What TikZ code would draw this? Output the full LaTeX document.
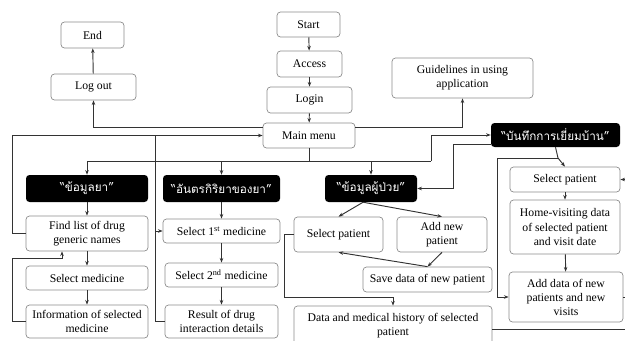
\documentclass[tikz,border=0pt]{standalone}
\usepackage{fontspec}
\setmainfont{Liberation Serif}
\newfontfamily\thaifont[Script=Thai]{Loma}
\usetikzlibrary{arrows.meta}
\newcommand{\pxunit}{0.03cm}
\newcommand{\arcolor}{black!80}
\newcommand{\bordercolor}{black!45}
\newcommand{\cornerradius}{3pt}
\tikzset{
  stepbox/.style={draw=\bordercolor, line width=0.6pt, rounded corners=\cornerradius, fill=white, align=center, inner sep=1pt},
  headbox/.style={fill=black, rounded corners=\cornerradius, text=white, align=center, inner sep=1pt, font=\thaifont},
  link/.style={draw=\arcolor, line width=0.8pt},
}

\begin{document}
\begin{tikzpicture}[x=\pxunit, y=-\pxunit, >={Stealth[length=4pt, width=3pt]}]
\useasboundingbox (0, 0) rectangle (625, 340);
\clip (0, 0) rectangle (625, 340);
%top
\node[stepbox] (start) at (308.5, 24.5) [minimum width=63*\pxunit, minimum height=25*\pxunit] {Start};
\node[stepbox] (access) at (309.5, 64) [minimum width=65*\pxunit, minimum height=26*\pxunit] {Access};
\node[stepbox] (login) at (309.5, 100) [minimum width=85*\pxunit, minimum height=26*\pxunit] {Login};
\node[stepbox] (main) at (309, 135.5) [minimum width=92*\pxunit, minimum height=25*\pxunit] {Main menu};
\node[stepbox] (logout) at (93.5, 87) [minimum width=85*\pxunit, minimum height=26*\pxunit] {Log out};
\node[stepbox] (stop) at (92.5, 35) [minimum width=63*\pxunit, minimum height=26*\pxunit] {End};
\node[stepbox] (guide) at (462.5, 78) [minimum width=141*\pxunit, minimum height=40*\pxunit] {Guidelines in using\\application};
%headers
\node[headbox] (drug) at (87, 188.5) [minimum width=122*\pxunit, minimum height=27*\pxunit] {“ข้อมูลยา”};
\node[headbox] (inter) at (221.5, 188.5) [minimum width=117*\pxunit, minimum height=27*\pxunit] {“อันตรกิริยาของยา”};
\node[headbox] (patient) at (371, 188.5) [minimum width=92*\pxunit, minimum height=27*\pxunit] {“ข้อมูลผู้ป่วย”};
\node[headbox] (visit) at (555.5, 135) [minimum width=129*\pxunit, minimum height=24*\pxunit] {“บันทึกการเยี่ยมบ้าน”};
%drug column
\node[stepbox] (find) at (87, 233.5) [minimum width=122*\pxunit, minimum height=35*\pxunit] {Find list of drug\\generic names};
\node[stepbox] (selmed) at (87, 278) [minimum width=122*\pxunit, minimum height=24*\pxunit] {Select medicine};
\node[stepbox] (info) at (87, 321.5) [minimum width=122*\pxunit, minimum height=33*\pxunit] {Information of selected\\medicine};
%interaction column
\node[stepbox] (first) at (221.5, 231) [minimum width=117*\pxunit, minimum height=24*\pxunit] {Select 1\textsuperscript{st} medicine};
\node[stepbox] (second) at (221.5, 275) [minimum width=113*\pxunit, minimum height=24*\pxunit] {Select 2\textsuperscript{nd} medicine};
\node[stepbox] (result) at (221.5, 321.5) [minimum width=113*\pxunit, minimum height=33*\pxunit] {Result of drug\\interaction details};
%patient column
\node[stepbox] (selp) at (338.5, 234.5) [minimum width=89*\pxunit, minimum height=35*\pxunit] {Select patient};
\node[stepbox] (addp) at (442, 234.5) [minimum width=90*\pxunit, minimum height=35*\pxunit] {Add new\\patient};
\node[stepbox] (save) at (427.5, 279.5) [minimum width=129*\pxunit, minimum height=25*\pxunit] {Save data of new patient};
\node[stepbox] (history) at (393, 325.5) [minimum width=198*\pxunit, minimum height=39*\pxunit] {Data and medical history of selected\\patient};
%visit column
\node[stepbox] (vselp) at (565, 179.5) [minimum width=110*\pxunit, minimum height=25*\pxunit] {Select patient};
\node[stepbox] (home) at (565, 227) [minimum width=110*\pxunit, minimum height=54*\pxunit] {Home-visiting data\\of selected patient\\and visit date};
\node[stepbox] (addv) at (566, 297) [minimum width=114*\pxunit, minimum height=50*\pxunit] {Add data of new\\patients and new\\visits};
%bends
\coordinate (barl) at (87, 161);
\coordinate (barr) at (431, 161);
\coordinate (loopl) at (155, 135.5);
\coordinate (fback) at (62, 258);
\coordinate (hjoin) at (393, 297);
\coordinate (vsplit) at (558, 158);
\coordinate (redge) at (625, 179.5);
%start to main menu
\draw[link, ->] (start) -- (access);
\draw[link, ->] (access) -- (login);
\draw[link, ->] (login) -- (main);
\draw[link, ->] (main.170) -| (logout);
\draw[link, ->] (logout) -- (stop);
\draw[link, ->] (main.10) -| (guide);
%menu bar
\draw[link] (main) -- (main |- barl);
\draw[link] (barl) -- (barr);
\draw[link, ->] (barl) -- (drug);
\draw[link, ->] (inter |- barl) -- (inter);
\draw[link, ->] (patient |- barl) -- (patient);
\draw[link, ->] (barr) |- (visit);
%back to main menu
\draw[link, ->] (find.west) -- ++(-13, 0) |- (main.west);
\draw[link] (result.west) -| (loopl);
\draw[link, ->] (first -| loopl) -- (first);
%drug column
\draw[link, ->] (drug) -- (find);
\draw[link, ->] (find) -- (selmed);
\draw[link, ->] (selmed) -- (info);
\draw[link, ->] (info.west) -- ++(-13, 0) |- (fback) -- (fback |- find.south);
%interaction column
\draw[link, ->] (inter) -- (first);
\draw[link, ->] (first) -- (second);
\draw[link, ->] (second) -- (result);
%patient column
\draw[link, ->] (patient.240) -- (selp.north);
\draw[link, ->] (patient.240) -- (addp.north);
\draw[link, ->] (addp.south) -- (save.north);
\draw[link, ->] (save.north) -- (selp.south);
\draw[link, ->] (selp.west) -- ++(-9, 0) |- (hjoin) -- (history);
\draw[link, ->] (visit.188) -- ++(-37, 0) |- (patient);
%visit column
\draw[link] (visit.south) -- (vsplit);
\draw[link, ->] (vsplit) -- (vselp.north);
\draw[link, ->] (vsplit) -- ++(-61, 0) |- (addv);
\draw[link, ->] (vselp) -- (home);
\draw[link, ->] (home) -- (addv);
\draw[link, ->] (redge) -- (vselp);
\draw[link] (addv) -- (addv -| redge);
\draw[link] (history.-2) -- (history.-2 -| redge);
\end{tikzpicture}
\end{document}
